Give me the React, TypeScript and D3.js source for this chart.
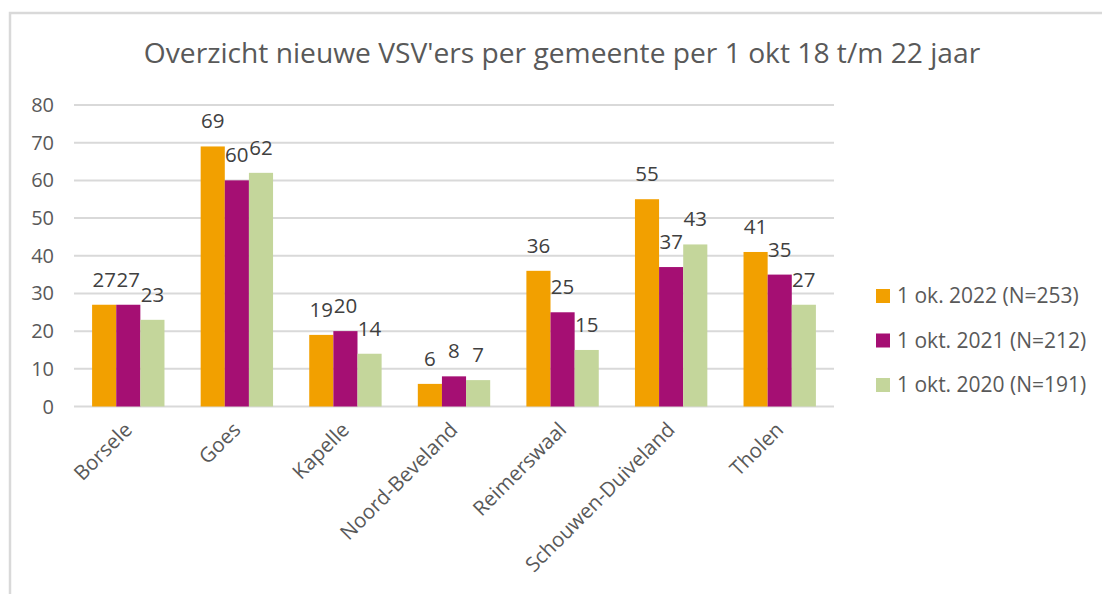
import React from "react";
import * as d3 from "d3";

const categories = ["Borsele", "Goes", "Kapelle", "Noord-Beveland", "Reimerswaal", "Schouwen-Duiveland", "Tholen"];
const seriesNames = ["1 ok. 2022 (N=253)", "1 okt. 2021 (N=212)", "1 okt. 2020 (N=191)"];
const values2022 = [27, 69, 19, 6, 36, 55, 41];
const values2021 = [27, 60, 20, 8, 25, 37, 35];
const values2020 = [23, 62, 14, 7, 15, 43, 27];
const yTicks = [0, 10, 20, 30, 40, 50, 60, 70, 80];
const colors = ["#F2A000", "#A50F73", "#C4D69B"];
const title = "Overzicht nieuwe VSV'ers per gemeente per 1 okt 18 t/m 22 jaar";

const W = 1102, H = 594;
const FONT = "'Open Sans', sans-serif";

export default function App() {
  const series = [values2022, values2021, values2020];
  const x0 = d3.scaleBand().domain(categories).range([74, 834]).paddingInner(1.5 / 4.5).paddingOuter(0.75 / 4.5);
  const x1 = d3.scaleBand().domain(["0", "1", "2"]).range([0, x0.bandwidth()]);
  const y = d3.scaleLinear().domain([0, 80]).range([406.5, 105]);

  return (
    <svg width={W} height={H} style={{ position: "absolute", left: 0, top: 0, background: "#fff" }}>
      <rect x={0} y={0} width={W} height={H} fill="#fff" />
      <path d={`M10,${H} L10,13 L${W},13`} fill="none" stroke="#d9d9d9" strokeWidth={2.5} />
      <text x={562} y={63} textAnchor="middle" fontFamily={FONT} fontSize={28.2} fill="#595959">{title}</text>
      {yTicks.map(t => (
        <g key={t}>
          <line x1={74} x2={834} y1={y(t)} y2={y(t)} stroke="#d9d9d9" strokeWidth={2} />
          <text x={54} y={y(t)} dy="0.35em" textAnchor="end" fontFamily={FONT} fontSize={20} fill="#595959">{t}</text>
        </g>
      ))}
      {categories.map((c, i) => (
        <g key={c} transform={`translate(${x0(c)},0)`}>
          {series.map((s, j) => (
            <g key={j}>
              <rect x={x1(String(j))} y={y(s[i])} width={x1.bandwidth()} height={y(0) - y(s[i])} fill={colors[j]} />
              <text x={(x1(String(j)) as number) + x1.bandwidth() / 2} y={y(s[i]) - 18} textAnchor="middle" fontFamily={FONT} fontSize={20.5} fill="#404040">{s[i]}</text>
            </g>
          ))}
        </g>
      ))}
      {categories.map(c => {
        const cx = (x0(c) as number) + x0.bandwidth() / 2;
        return (
          <text key={c} transform={`translate(${cx + 5},${431}) rotate(-45)`} textAnchor="end" fontFamily={FONT} fontSize={20.5} fill="#595959">{c}</text>
        );
      })}
      {seriesNames.map((n, j) => (
        <g key={n} transform={`translate(876,${296 + j * 44.5})`}>
          <rect x={0} y={-7} width={14} height={14} fill={colors[j]} />
          <text x={21} y={0} dy="0.35em" fontFamily={FONT} fontSize={21} fill="#595959">{n}</text>
        </g>
      ))}
    </svg>
  );
}
